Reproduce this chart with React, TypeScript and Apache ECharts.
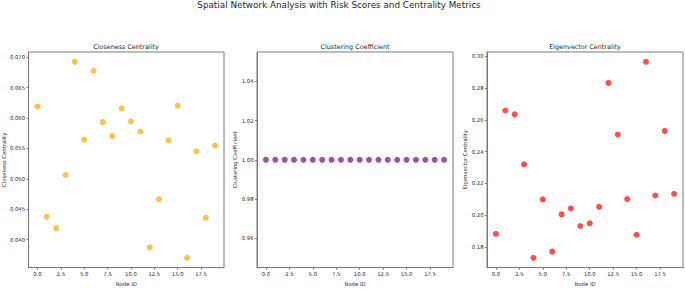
import React, { useEffect, useRef } from "react";
import * as echarts from "echarts";

const nodeIds = Array.from({ length: 20 }, (_, i) => i);
const closeness = [
  0.0619, 0.04374, 0.04187, 0.05062, 0.06925, 0.05644, 0.06776, 0.05932, 0.05703, 0.06157,
  0.05943, 0.05778, 0.03872, 0.04667, 0.05633, 0.06205, 0.03701, 0.05452, 0.04358, 0.05548,
];
const clustering = [
  1, 1, 1, 1, 1, 1, 1, 1, 1, 1, 1, 1, 1, 1, 1, 1, 1, 1, 1, 1,
];
const eigenvector = [
  0.18837, 0.26592, 0.26347, 0.23204, 0.17327, 0.21, 0.17714, 0.20061, 0.20429, 0.19327,
  0.1949, 0.2053, 0.28327, 0.25082, 0.2102, 0.18776, 0.29653, 0.21245, 0.25306, 0.21347,
];
const xTicks = [0, 2.5, 5, 7.5, 10, 12.5, 15, 17.5];
const closenessTicks = [0.04, 0.045, 0.05, 0.055, 0.06, 0.065, 0.07];
const clusteringTicks = [0.96, 0.98, 1.0, 1.02, 1.04];
const eigenTicks = [0.18, 0.2, 0.22, 0.24, 0.26, 0.28, 0.3];

const FONT = "DejaVu Sans";
const SPINE = "#7a7a7a";
const TEXT = "#262626";

export default function App() {
  const ref = useRef<HTMLDivElement>(null);
  useEffect(() => {
    if (!ref.current) return;
    const chart = echarts.init(ref.current, undefined, { renderer: "svg" });
    const panels = [
      { left: 28, title: "Closeness Centrality", name: "Closeness Centrality", data: closeness, ticks: closenessTicks, min: 0.03539, max: 0.07086, dec: 3, color: "#FFC04D", gap: 20 },
      { left: 257, title: "Clustering Coefficient", name: "Clustering Coefficient", data: clustering, ticks: clusteringTicks, min: 0.945, max: 1.055, dec: 2, color: "#A64DA6", gap: 17 },
      { left: 487, title: "Eigenvector Centrality", name: "Eigenvector Centrality", data: eigenvector, ticks: eigenTicks, min: 0.1671, max: 0.3027, dec: 2, color: "#FF4D4D", gap: 17 },
    ];
    const width = 196;
    const top = 52;
    const height = 221;
    const option: any = {
      animation: false,
      backgroundColor: "#ffffff",
      grid: panels.map((p) => ({
        left: p.left,
        top,
        width,
        height,
        show: true,
        borderColor: SPINE,
        borderWidth: 1,
        backgroundColor: "transparent",
      })),
      xAxis: panels.map((p, i) => ({
        type: "value",
        gridIndex: i,
        min: -0.95,
        max: 19.95,
        name: "Node ID",
        nameLocation: "middle",
        nameGap: 11,
        nameTextStyle: { fontFamily: FONT, fontSize: 5.3, color: TEXT },
        splitLine: { show: false },
        axisLine: { show: true, onZero: false, lineStyle: { color: SPINE, width: 1 } },
        axisTick: { show: true, length: 2, customValues: xTicks, lineStyle: { color: SPINE } },
        axisLabel: {
          show: true,
          customValues: xTicks,
          margin: 3.5,
          fontFamily: FONT,
          fontSize: 5.3,
          color: TEXT,
          formatter: (v: number) => v.toFixed(1),
        },
      })),
      yAxis: panels.map((p, i) => ({
        type: "value",
        gridIndex: i,
        min: p.min,
        max: p.max,
        name: p.name,
        nameLocation: "middle",
        nameGap: p.gap,
        nameTextStyle: { fontFamily: FONT, fontSize: 5.3, color: TEXT },
        splitLine: { show: false },
        axisLine: { show: true, onZero: false, lineStyle: { color: SPINE, width: 1 } },
        axisTick: { show: true, length: 2, customValues: p.ticks, lineStyle: { color: SPINE } },
        axisLabel: {
          show: true,
          customValues: p.ticks,
          margin: 3.5,
          fontFamily: FONT,
          fontSize: 5.3,
          color: TEXT,
          formatter: (v: number) => v.toFixed(p.dec),
        },
      })),
      series: panels.map((p, i) => ({
        type: "scatter",
        xAxisIndex: i,
        yAxisIndex: i,
        symbolSize: 6,
        itemStyle: { color: p.color, opacity: 1 },
        data: nodeIds.map((id, k) => [id, p.data[k]]),
      })),
      graphic: [
        {
          type: "text",
          x: 339,
          y: 5,
          style: {
            text: "Spatial Network Analysis with Risk Scores and Centrality Metrics",
            textAlign: "center",
            textVerticalAlign: "middle",
            fontFamily: FONT,
            fontSize: 8.8,
            fill: TEXT,
          },
        },
        ...panels.map((p) => ({
          type: "text",
          x: p.left + width / 2,
          y: 47,
          style: {
            text: p.title,
            textAlign: "center",
            textVerticalAlign: "middle",
            fontFamily: FONT,
            fontSize: 6.4,
            fill: TEXT,
          },
        })),
      ],
    };
    chart.setOption(option);
    return () => chart.dispose();
  }, []);
  return (
    <div
      ref={ref}
      style={{ position: "fixed", left: 0, top: 0, width: 685, height: 291, background: "#fff" }}
    />
  );
}
